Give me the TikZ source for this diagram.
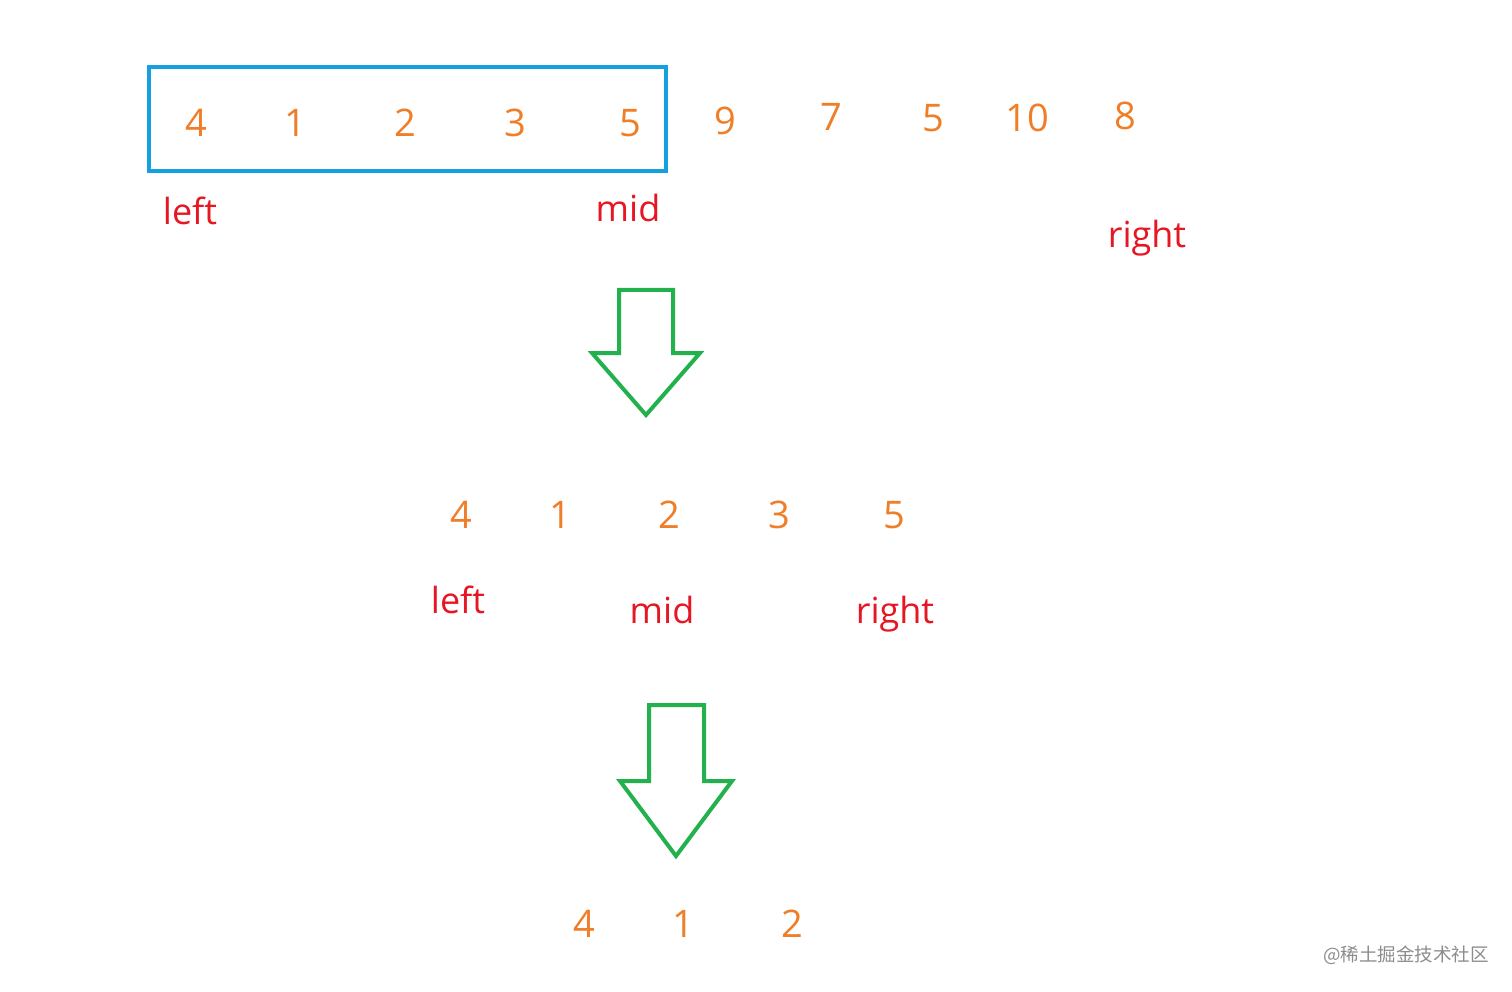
\documentclass[tikz,border=0pt]{standalone}
\usepackage{fontspec}
\setmainfont{Open Sans}
\newfontfamily\cjk{Noto Sans CJK SC}
\definecolor{numc}{RGB}{240,125,40}
\definecolor{labc}{RGB}{230,22,35}
\definecolor{boxc}{RGB}{20,160,225}
\definecolor{arrc}{RGB}{34,177,76}
\begin{document}
\begin{tikzpicture}[x=1pt,y=-1pt,
  num/.style={text=numc,font=\fontsize{38}{40}\selectfont,inner sep=0pt,anchor=base},
  lab/.style={text=labc,font=\fontsize{36}{40}\selectfont,inner sep=0pt,anchor=base},
  arrowshape/.style={draw=arrc,line width=4pt,line join=miter}]
\useasboundingbox (0,0) rectangle (1512,992);
% row 1
\node[draw=boxc,line width=4pt,minimum width=517pt,minimum height=104pt,inner sep=0pt] (box) at (407.5,119) {};
\node[num] (a1) at (196,137) {4};
\node[num] (a2) at (295,137) {1};
\node[num] (a3) at (405,137) {2};
\node[num] (a4) at (515,137) {3};
\node[num] (a5) at (630,137) {5};
\node[num] (a6) at (725,135) {9};
\node[num] (a7) at (831,131) {7};
\node[num] (a8) at (933,132) {5};
\node[num] (a9) at (1027,132) {10};
\node[num] (a10) at (1125,130) {8};
\node[lab] (l1) at (190,225) {left};
\node[lab] (m1) at (628,222) {mid};
\node[lab] (r1) at (1147,248) {right};
% arrow 1
\draw[arrowshape] (619,290) -- (673,290) -- (673,353) -- (700,353) -- (646,415) -- (592,353) -- (619,353) -- cycle;
% row 2
\node[num] (b1) at (461,528) {4};
\node[num] (b2) at (560,528) {1};
\node[num] (b3) at (669,528) {2};
\node[num] (b4) at (779,528) {3};
\node[num] (b5) at (894,528) {5};
\node[lab] (l2) at (458,613) {left};
\node[lab] (m2) at (662,623) {mid};
\node[lab] (r2) at (895,623) {right};
% arrow 2
\draw[arrowshape] (649,705) -- (704,705) -- (704,781) -- (732,781) -- (676,856) -- (620,781) -- (649,781) -- cycle;
% row 3
\node[num] (c1) at (584,937) {4};
\node[num] (c2) at (683,937) {1};
\node[num] (c3) at (792,937) {2};
% watermark
\node[text=black!45,font=\cjk\fontsize{18.5}{20}\selectfont,inner sep=0pt] (wm) at (1406,955) {@稀土掘金技术社区};
\end{tikzpicture}
\end{document}
